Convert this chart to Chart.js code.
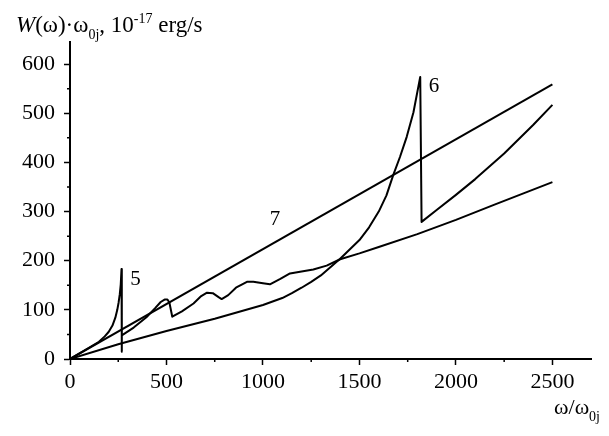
<!DOCTYPE html>
<html>
<head>
<meta charset="utf-8">
<script src="https://cdn.jsdelivr.net/npm/chart.js@4.4.0/dist/chart.umd.min.js"></script>
<style>
    html, body { margin: 0; padding: 0; background: #fff; }
    #wrap { width: 609px; height: 436px; }
</style>
</head>
<body>
<div id="wrap"><canvas id="chart" width="609" height="436"></canvas></div>
<script>
// values
var xTicks = [0, 500, 1000, 1500, 2000, 2500];
var xMinorTicks = [250, 750, 1250, 1750, 2250];
var yTicks = [0, 100, 200, 300, 400, 500, 600];
var yMinorTicks = [50, 150, 250, 350, 450, 550];

var curve5X = [0, 100, 150, 180, 200, 220, 235, 245, 252, 258, 263, 267, 268, 269,
    330, 396, 440, 470, 490, 505, 515, 530,
    580, 640, 680, 710, 740, 770, 786, 820, 860, 917, 950, 1000, 1036, 1090, 1140, 1200, 1261, 1330, 1400,
    1500, 1600, 1800, 2000, 2200, 2350, 2500];
var curve5Y = [0, 23, 35, 46, 55, 68, 84, 100, 115, 132, 152, 183, 15, 48,
    64, 85, 103, 116, 121, 121, 115, 86,
    97, 113, 128, 135, 134, 126, 122, 130, 145, 157, 157, 154, 152, 163, 174, 178, 182, 190, 203,
    215, 228, 254, 283, 314, 337, 360];

var curve6X = [0, 250, 500, 750, 1000, 1100, 1150, 1200, 1250, 1300, 1400, 1500, 1550, 1600, 1640,
    1675, 1710, 1745, 1780, 1815,
    1822, 1900, 2000, 2100, 2250, 2400, 2500];
var curve6Y = [0, 30, 57, 82, 110, 124, 134, 145, 157, 170, 204, 242, 268, 300, 333,
    374, 411, 452, 502, 574,
    279, 303, 334, 366, 418, 476, 517];

var curve7X = [0, 2500];
var curve7Y = [0, 559];

var curveNames = ['5', '6', '7'];
var nameX = [340, 1887, 1062];
var nameY = [161, 555, 283];

var serif = '"Liberation Serif", "Times New Roman", serif';

function toPoints(xs, ys) {
    return xs.map(function (x, i) { return { x: x, y: ys[i] }; });
}

function lineSet(xs, ys) {
    return {
        data: toPoints(xs, ys),
        borderColor: '#000',
        borderWidth: 2,
        pointRadius: 0,
        fill: false,
        tension: 0,
        borderJoinStyle: 'round'
    };
}

// draws text pieces one after another, sub/superscripts smaller
function drawRuns(ctx, runs, x, y, size) {
    runs.forEach(function (r) {
        var s = (r.sub || r.sup) ? Math.round(size * 0.62) : size;
        ctx.font = (r.it ? 'italic ' : '') + s + 'px ' + serif;
        var dy = r.sub ? size * 0.3 : (r.sup ? -size * 0.4 : 0);
        ctx.fillText(r.t, x, y + dy);
        x += ctx.measureText(r.t).width;
    });
}

function runsWidth(ctx, runs, size) {
    var w = 0;
    runs.forEach(function (r) {
        var s = (r.sub || r.sup) ? Math.round(size * 0.62) : size;
        ctx.font = (r.it ? 'italic ' : '') + s + 'px ' + serif;
        w += ctx.measureText(r.t).width;
    });
    return w;
}

var textPlugin = {
    id: 'texts',
    afterDraw: function (chart) {
        var ctx = chart.ctx;
        var xs = chart.scales.x, ys = chart.scales.y;
        ctx.save();
        ctx.fillStyle = '#000';
        ctx.strokeStyle = '#000';

        // minor ticks
        ctx.lineWidth = 1.5;
        ctx.beginPath();
        xMinorTicks.forEach(function (v) {
            var px = xs.getPixelForValue(v);
            ctx.moveTo(px, ys.bottom);
            ctx.lineTo(px, ys.bottom + 3);
        });
        yMinorTicks.forEach(function (v) {
            var py = ys.getPixelForValue(v);
            ctx.moveTo(xs.left, py);
            ctx.lineTo(xs.left - 3, py);
        });
        ctx.stroke();

        // curve numbers
        ctx.font = '21px ' + serif;
        ctx.textAlign = 'center';
        ctx.textBaseline = 'middle';
        curveNames.forEach(function (n, i) {
            ctx.fillText(n, xs.getPixelForValue(nameX[i]), ys.getPixelForValue(nameY[i]));
        });

        // axis titles
        ctx.textAlign = 'left';
        ctx.textBaseline = 'alphabetic';
        drawRuns(ctx, [
            { t: 'W', it: true }, { t: '(ω)·ω' }, { t: '0j', sub: true },
            { t: ', 10' }, { t: '-17', sup: true }, { t: ' erg/s' }
        ], 16, 32, 23);

        var xTitle = [{ t: 'ω/ω' }, { t: '0j', sub: true }];
        drawRuns(ctx, xTitle, 600 - runsWidth(ctx, xTitle, 22), 414, 22);
        ctx.restore();
    }
};

var axisFont = { family: serif, size: 22 };
var plainLabel = function (v) { return String(v); };

new Chart(document.getElementById('chart'), {
    type: 'line',
    data: {
        datasets: [
            lineSet(curve5X, curve5Y),
            lineSet(curve6X, curve6Y),
            lineSet(curve7X, curve7Y)
        ]
    },
    options: {
        responsive: false,
        animation: false,
        devicePixelRatio: 1,
        layout: { padding: { top: 42, right: 18, left: 0, bottom: 0 } },
        plugins: { legend: { display: false }, tooltip: { enabled: false } },
        scales: {
            x: {
                type: 'linear',
                min: 0,
                max: 2700,
                afterBuildTicks: function (scale) {
                    scale.ticks = xTicks.map(function (v) { return { value: v }; });
                },
                afterFit: function (scale) { scale.height = 77; },
                ticks: { font: axisFont, color: '#000', padding: 4, maxRotation: 0, autoSkip: false, callback: plainLabel },
                grid: { drawOnChartArea: false, tickLength: 6, color: '#000', tickColor: '#000', tickWidth: 1.5 },
                border: { color: '#000', width: 2 }
            },
            y: {
                min: 0,
                max: 645,
                afterBuildTicks: function (scale) {
                    scale.ticks = yTicks.map(function (v) { return { value: v }; });
                },
                afterFit: function (scale) { scale.width = 70; },
                ticks: { font: axisFont, color: '#000', padding: 9, autoSkip: false, callback: plainLabel },
                grid: { drawOnChartArea: false, tickLength: 6, color: '#000', tickColor: '#000', tickWidth: 1.5 },
                border: { color: '#000', width: 2 }
            }
        }
    },
    plugins: [textPlugin]
});
</script>
</body>
</html>
